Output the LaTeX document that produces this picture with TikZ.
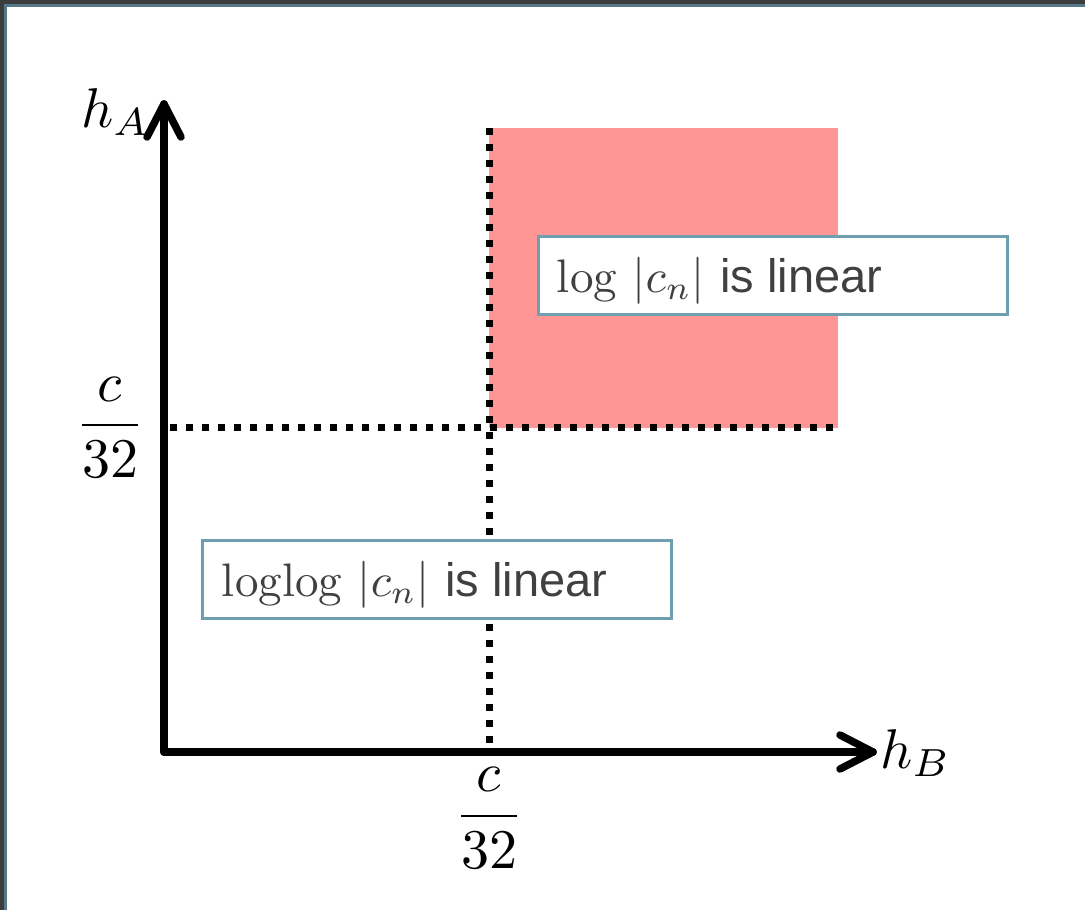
\documentclass[tikz,border=0pt]{standalone}
\usepackage{fontspec}
\newfontfamily\boxsans{Liberation Sans}
\definecolor{frameDark}{RGB}{60,60,60}
\definecolor{frameTeal}{RGB}{84,120,135}
\definecolor{regionPink}{RGB}{255,150,150}
\definecolor{boxTeal}{RGB}{110,158,175}
\definecolor{txtGray}{RGB}{64,64,64}
\tikzset{
  axisline/.style={line width=7.5pt, line cap=round, line join=round},
  chevron/.style={line width=7.5pt, line cap=round, line join=round},
  dotline/.style={line width=7pt, dash pattern=on 7pt off 9pt},
  labelbox/.style={draw=boxTeal, line width=3pt, fill=white, minimum width=469pt, minimum height=78pt, anchor=north west, inner sep=0pt},
  axislabel/.style={inner sep=0pt, scale=5.6},
  boxtext/.style={anchor=base west, inner sep=0pt, text=txtGray, scale=4.7}
}
\begin{document}
\begin{tikzpicture}[x=1pt, y=-1pt]
\useasboundingbox (0,0) rectangle (1085,910);
% frame
\fill[frameDark] (0,0) rectangle (1085,910);
\fill[frameTeal] (4,4) rectangle (1085,910);
\fill[white] (7,7) rectangle (1085,910);
% pink region
\fill[regionPink] (489,128) rectangle (838,428);
% dotted lines
\coordinate (vtop) at (489,128);
\coordinate (vbot) at (489,746);
\coordinate (hleft) at (170,427.5);
\coordinate (hright) at (838,427.5);
\draw[dotline] (vtop) -- (vbot);
\draw[dotline] (hleft) -- (hright);
% axes
\coordinate (origin) at (164,752);
\coordinate (ytip) at (164,104);
\coordinate (xtip) at (873,752);
\draw[axisline] (origin) -- (ytip);
\draw[axisline] (origin) -- (xtip);
\draw[chevron] ([xshift=-17pt,yshift=-33pt]ytip) -- (ytip) -- ([xshift=17pt,yshift=-33pt]ytip);
\draw[chevron] ([xshift=-33pt,yshift=-17pt]xtip) -- (xtip) -- ([xshift=-33pt,yshift=17pt]xtip);
% axis labels
\node[axislabel, anchor=base west] (hA) at (80,127) {$h_A$};
\node[axislabel, anchor=base west] (hB) at (879,768) {$h_B$};
\node[axislabel, anchor=center] (cy) at (110,427.5) {$\displaystyle\frac{c}{32}$};
\node[axislabel, anchor=center] (cx) at (489,818) {$\displaystyle\frac{c}{32}$};
% boxes
\node[labelbox] (b1) at (537,235) {};
\node[boxtext] (t1) at (556,292) {$\log\,|c_n|$ {\boxsans is linear}};
\node[labelbox] (b2) at (201,539) {};
\node[boxtext] (t2) at (221,596) {$\log\!\log\,|c_n|$ {\boxsans is linear}};
\end{tikzpicture}
\end{document}
